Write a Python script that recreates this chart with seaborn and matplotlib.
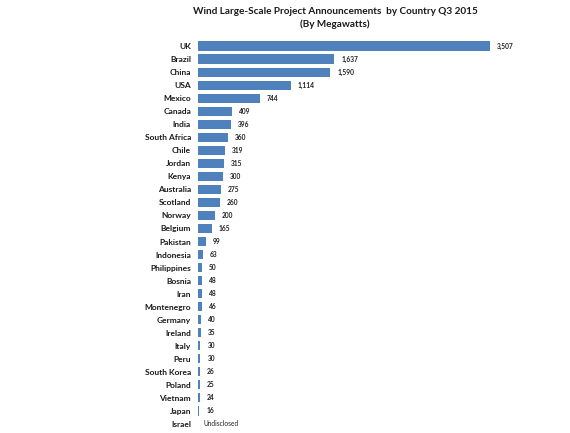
import matplotlib
matplotlib.use("Agg")
import matplotlib.pyplot as plt
import seaborn as sns
import numpy as np
import pandas as pd

countries = ["UK", "Brazil", "China", "USA", "Mexico", "Canada", "India", "South Africa",
             "Chile", "Jordan", "Kenya", "Australia", "Scotland", "Norway", "Belgium",
             "Pakistan", "Indonesia", "Philippines", "Bosnia", "Iran", "Montenegro",
             "Germany", "Ireland", "Italy", "Peru", "South Korea", "Poland", "Vietnam",
             "Japan", "Israel"]
megawatts = [3507, 1637, 1590, 1114, 744, 409, 396, 360, 319, 315, 300, 275, 260, 200,
             165, 99, 63, 50, 48, 48, 46, 40, 35, 30, 30, 26, 25, 24, 16, np.nan]
value_labels = ["3,507", "1,637", "1,590", "1,114", "744", "409", "396", "360", "319",
                "315", "300", "275", "260", "200", "165", "99", "63", "50", "48", "48",
                "46", "40", "35", "30", "30", "26", "25", "24", "16", "Undisclosed"]

title = "Wind Large-Scale Project Announcements  by Country Q3 2015\n(By Megawatts)"

sns.set_theme(style="white")
plt.rcParams['font.family'] = ['Lato', 'DejaVu Sans']

df = pd.DataFrame({"country": countries, "mw": megawatts})

W, H = 570, 433
fig = plt.figure(figsize=(W / 100, H / 100), dpi=100)
left, right = 198, 560
top, bottom = 39.5, 430.5
ax = fig.add_axes([left / W, 1 - bottom / H, (right - left) / W, (bottom - top) / H])

sns.barplot(data=df, x="mw", y="country", color="#4F81BD", saturation=1,
            width=0.7, ax=ax, orient="h", linewidth=0, edgecolor="none")

scale = 292 / 3507  # px per MW
ax.set_xlim(0, (right - left) / scale)
ax.set_ylim(len(countries) - 0.5, -0.5)

for i, (v, lab) in enumerate(zip(megawatts, value_labels)):
    missing = np.isnan(v)
    xv = 0 if missing else v
    ax.annotate(lab, (xv, i), xytext=(4 if missing else 5, 0),
                textcoords="offset points", va="center", ha="left",
                fontsize=4.8, fontweight="normal" if missing else "bold",
                color="#222222")

ax.set_xlabel("")
ax.set_ylabel("")
ax.set_xticks([])
ax.tick_params(axis="y", length=0, pad=5)
for t in ax.get_yticklabels():
    t.set_fontsize(6)
    t.set_fontweight("bold")
    t.set_color("#1a1a1a")
for s in ax.spines.values():
    s.set_visible(False)

fig.text(335 / W, 1 - 18 / H, title, ha="center", va="center", fontsize=7.2,
         fontweight="bold", color="#1a1a1a", linespacing=1.45)

fig.savefig("out.png", dpi=100, facecolor="white")
